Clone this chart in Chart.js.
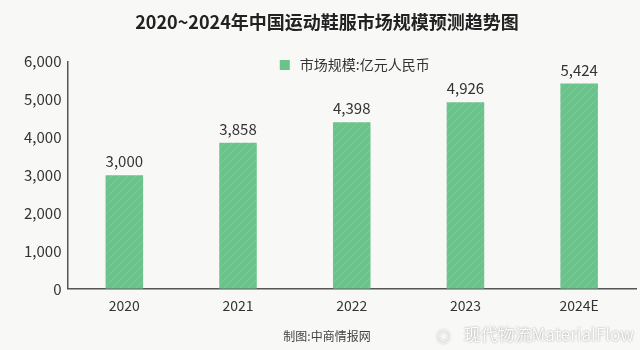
<!DOCTYPE html>
<html>
<head>
<meta charset="utf-8">
<script src="https://cdn.jsdelivr.net/npm/chart.js@4.4.1/dist/chart.umd.min.js"></script>
<style>
  html, body { margin: 0; padding: 0; background: #f8f8f7; }
  #wrap { width: 640px; height: 350px; position: relative; }
</style>
</head>
<body>
<div id="wrap"><canvas id="c" width="640" height="350"></canvas></div>
<script>
// Market size of sportswear & footwear in China (亿元人民币)
const years = ['2020', '2021', '2022', '2023', '2024E'];
const marketSize = [3000, 3858, 4398, 4926, 5424];
const yTicks = [0, 1000, 2000, 3000, 4000, 5000, 6000];

const FONT = '"Noto Sans CJK SC", "Noto Sans", sans-serif';
const GREEN = '#6cc28b';

// Slightly textured green fill for the bars
function makeBarFill() {
  const p = document.createElement('canvas');
  p.width = 8; p.height = 8;
  const g = p.getContext('2d');
  g.fillStyle = GREEN;
  g.fillRect(0, 0, 8, 8);
  g.strokeStyle = 'rgba(150,215,172,0.45)';
  g.lineWidth = 1;
  g.beginPath();
  g.moveTo(0, 8); g.lineTo(8, 0);
  g.moveTo(-4, 4); g.lineTo(4, -4);
  g.moveTo(4, 12); g.lineTo(12, 4);
  g.stroke();
  return document.getElementById('c').getContext('2d').createPattern(p, 'repeat');
}

const fmt = v => v.toLocaleString('en-US');

// Value labels above each bar
const valueLabels = {
  id: 'valueLabels',
  afterDatasetsDraw(chart) {
    const ctx = chart.ctx;
    const meta = chart.getDatasetMeta(0);
    ctx.save();
    ctx.font = '15px ' + FONT;
    ctx.fillStyle = '#333';
    ctx.textAlign = 'center';
    ctx.textBaseline = 'bottom';
    meta.data.forEach((bar, i) => {
      ctx.fillText(fmt(marketSize[i]), bar.x, bar.y - 6);
    });
    ctx.restore();
  }
};

// Legend drawn inside the plot area, centred over it
const innerLegend = {
  id: 'innerLegend',
  afterDraw(chart) {
    const ctx = chart.ctx;
    const area = chart.chartArea;
    const label = chart.data.datasets[0].label;
    ctx.save();
    ctx.font = '14px ' + FONT;
    const tw = ctx.measureText(label).width;
    const box = 10, gap = 10;
    const total = box + gap + tw;
    const x0 = (area.left + area.right) / 2 - total / 2 + 3;
    const y = 65;
    ctx.fillStyle = GREEN;
    ctx.fillRect(x0, y - box / 2, box, box);
    ctx.fillStyle = '#333';
    ctx.textBaseline = 'middle';
    ctx.textAlign = 'left';
    ctx.fillText(label, x0 + box + gap, y);
    ctx.restore();
  }
};

// Corner mark
const cornerMark = {
  id: 'cornerMark',
  afterDraw(chart) {
    const ctx = chart.ctx;
    ctx.save();
    ctx.font = '17px ' + FONT;
    ctx.textAlign = 'right';
    ctx.textBaseline = 'middle';
    ctx.shadowColor = 'rgba(0,0,0,0.45)';
    ctx.shadowBlur = 2;
    ctx.fillStyle = 'rgba(255,255,255,0.95)';
    ctx.fillText('现代物流MaterialFlow', 634, 335);
    ctx.font = '15px ' + FONT;
    ctx.fillText('◎', 451, 336);
    ctx.restore();
  }
};

new Chart(document.getElementById('c'), {
  type: 'bar',
  data: {
    labels: years,
    datasets: [{
      label: '市场规模:亿元人民币',
      data: marketSize,
      backgroundColor: makeBarFill(),
      borderWidth: 0,
      categoryPercentage: 1,
      barPercentage: 0.33
    }]
  },
  options: {
    responsive: false,
    animation: false,
    devicePixelRatio: 1,
    layout: { padding: { left: 18, right: 4, top: 0, bottom: 4 } },
    plugins: {
      legend: { display: false },
      tooltip: { enabled: false },
      title: {
        display: true,
        text: '2020~2024年中国运动鞋服市场规模预测趋势图',
        color: '#222',
        font: { family: FONT, size: 18, weight: 'bold' },
        padding: { top: 11, bottom: 29 }
      },
      subtitle: {
        display: true,
        position: 'bottom',
        text: '制图:中商情报网',
        color: '#444',
        font: { family: FONT, size: 12 },
        padding: { top: 8, bottom: 2 }
      }
    },
    scales: {
      x: {
        grid: { display: false, drawTicks: false },
        border: { display: true, color: '#555', width: 1.5 },
        ticks: { color: '#333', font: { family: FONT, size: 14 }, padding: 8 }
      },
      y: {
        min: 0,
        max: 6000,
        afterBuildTicks(scale) { scale.ticks = yTicks.map(v => ({ value: v })); },
        grid: { display: false, drawTicks: false },
        border: { display: true, color: '#555', width: 1.5 },
        ticks: { color: '#333', font: { family: FONT, size: 15 }, padding: 6, callback: v => fmt(v) }
      }
    }
  },
  plugins: [valueLabels, innerLegend, cornerMark]
});
</script>
</body>
</html>
